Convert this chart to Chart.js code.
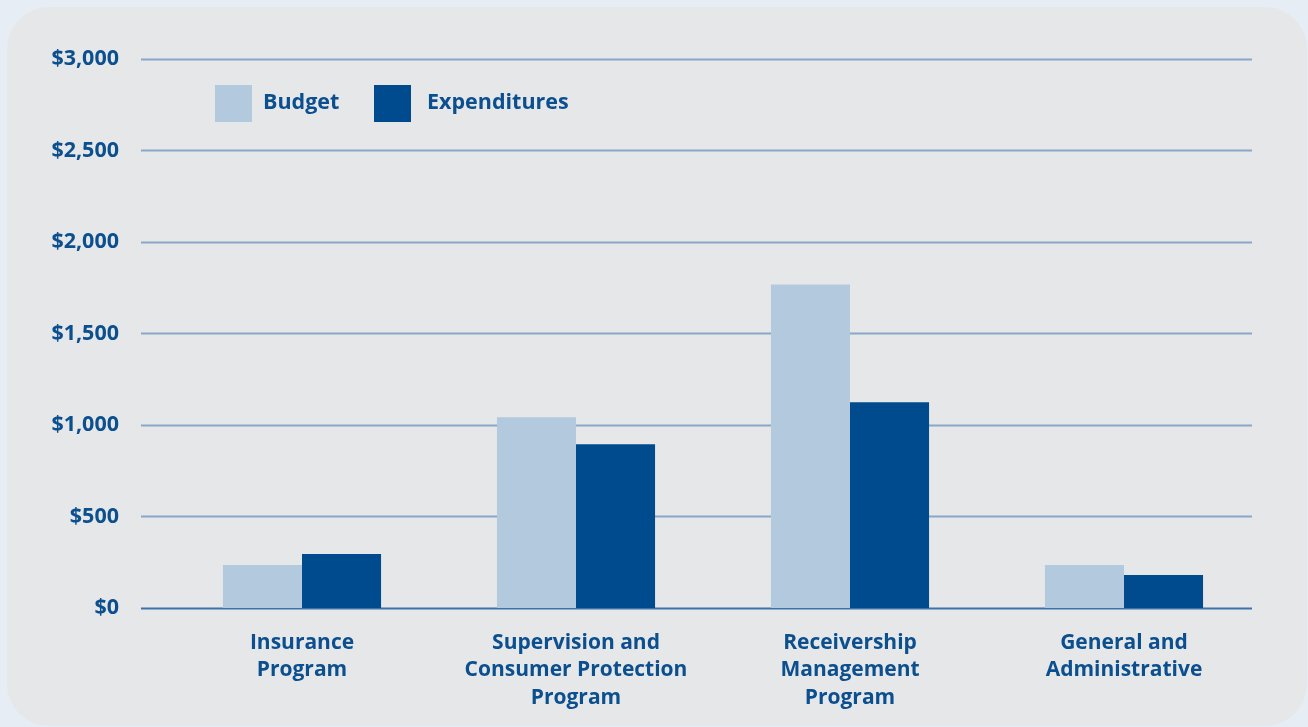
<!DOCTYPE html>
<html>
<head>
<meta charset="utf-8">
<script src="https://cdn.jsdelivr.net/npm/chart.js@4.4.1/dist/chart.umd.min.js"></script>
<style>
  html, body { margin: 0; padding: 0; background: #e7edf4; }
  #wrap { position: relative; width: 1308px; height: 727px; overflow: hidden; }
  #panel {
    position: absolute; left: 7px; top: 7px; width: 1300px; height: 719px;
    background: #e6e7e9; border-radius: 42px;
  }
  canvas { position: absolute; left: 0; top: 0; }
</style>
</head>
<body>
<div id="wrap">
  <div id="panel"></div>
  <canvas id="chart" width="1308" height="727"></canvas>
</div>
<script>
// Budget vs. expenditures by program ($ in millions)
const categories = [
  ["Insurance", "Program"],
  ["Supervision and", "Consumer Protection", "Program"],
  ["Receivership", "Management", "Program"],
  ["General and", "Administrative"]
];
const budget = [235, 1042, 1767, 235];
const expenditures = [295, 895, 1124, 180];
const seriesNames = ["Budget", "Expenditures"];
const seriesColors = ["#b3c9dd", "#004b8d"];
const yTicks = [0, 500, 1000, 1500, 2000, 2500, 3000];

const textBlue = "#0b4f8f";
const fontFamily = "'Open Sans', 'DejaVu Sans', sans-serif";

// horizontal rules run a bit left of the bars, like the printed report
const gridLines = {
  id: "gridLines",
  beforeDatasetsDraw(chart) {
    const ctx = chart.ctx;
    const y = chart.scales.y;
    ctx.save();
    yTicks.forEach(v => {
      const py = Math.round(y.getPixelForValue(v)) + 0.5;
      ctx.strokeStyle = v === 0 ? "#3a73ab" : "#87a8c8";
      ctx.lineWidth = 2;
      ctx.beginPath();
      ctx.moveTo(141, py);
      ctx.lineTo(1252, py);
      ctx.stroke();
    });
    ctx.restore();
  }
};

const boxLegend = {
  id: "boxLegend",
  afterDraw(chart) {
    const ctx = chart.ctx;
    const items = [{ x: 215, tx: 263 }, { x: 374, tx: 427 }];
    ctx.save();
    ctx.font = "bold 21.5px " + fontFamily;
    ctx.textBaseline = "middle";
    items.forEach((it, i) => {
      ctx.fillStyle = seriesColors[i];
      ctx.fillRect(it.x, 85, 37, 37);
      ctx.fillStyle = textBlue;
      ctx.fillText(seriesNames[i], it.tx, 103);
    });
    ctx.restore();
  }
};

new Chart(document.getElementById("chart"), {
  type: "bar",
  data: {
    labels: categories,
    datasets: [
      { label: seriesNames[0], data: budget, backgroundColor: seriesColors[0] },
      { label: seriesNames[1], data: expenditures, backgroundColor: seriesColors[1] }
    ]
  },
  options: {
    responsive: false,
    animation: false,
    layout: { padding: { top: 58, right: 47, left: 0, bottom: 0 } },
    datasets: {
      bar: { categoryPercentage: 0.577, barPercentage: 1.0, borderWidth: 0 }
    },
    scales: {
      x: {
        grid: { display: false },
        border: { display: false },
        ticks: {
          color: textBlue,
          font: { family: fontFamily, size: 21, weight: "bold", lineHeight: "27.5px" },
          padding: 13,
          maxRotation: 0,
          autoSkip: false
        },
        afterFit(scale) { scale.height = 119; }
      },
      y: {
        min: 0,
        max: 3000,
        grid: { display: false, drawTicks: false },
        border: { display: false },
        ticks: {
          stepSize: 500,
          color: textBlue,
          font: { family: fontFamily, size: 21.5, weight: "bold" },
          padding: 46,
          callback: v => "$" + v.toLocaleString("en-US")
        },
        afterFit(scale) { scale.width = 165; }
      }
    },
    plugins: {
      legend: { display: false },
      tooltip: { enabled: false }
    }
  },
  plugins: [gridLines, boxLegend]
});
</script>
</body>
</html>
